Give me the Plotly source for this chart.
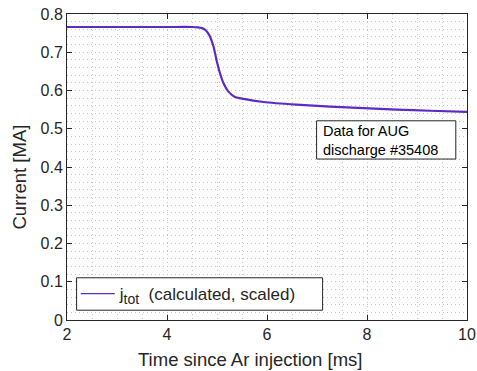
import plotly.graph_objects as go

# ---- data ----
time_ms = [2.0, 3.0, 4.0, 4.5, 4.62, 4.70, 4.76, 4.81, 4.86, 4.93, 4.99, 5.06,
           5.13, 5.23, 5.36, 5.53, 5.93, 6.59, 7.26, 7.93, 8.59, 9.26, 10.0]
current_MA = [0.766, 0.766, 0.766, 0.766, 0.765, 0.763, 0.759, 0.752, 0.741, 0.715,
              0.680, 0.645, 0.619, 0.597, 0.583, 0.578, 0.570, 0.563, 0.558,
              0.554, 0.550, 0.547, 0.544]
series_name = ("j<sub><span style='font-size:14px'>tot</span></sub>"
               "\u00a0\u00a0(calculated, scaled)")
x_ticks = [2, 4, 6, 8, 10]
y_ticks = [0, 0.1, 0.2, 0.3, 0.4, 0.5, 0.6, 0.7, 0.8]
x_title = "Time since Ar injection [ms]"
y_title = "Current [MA]"
note_text = "Data for AUG<br>discharge #35408"

LINE = "#5b2bc4"
TXT = "#262626"
FONT = "Liberation Sans, Arial, Helvetica, sans-serif"
GRID = "#c4c4c4"
DASH = "1px,3px"

fig = go.Figure()
fig.add_trace(go.Scatter(x=time_ms, y=current_MA, mode="lines",
                         line=dict(color=LINE, width=2.2, shape="spline", smoothing=0.6),
                         showlegend=False, hoverinfo="skip"))
# legend entry (thin sample line like the reference)
fig.add_trace(go.Scatter(x=[None], y=[None], mode="lines",
                         line=dict(color=LINE, width=1.3), name=series_name,
                         showlegend=True))

axis_common = dict(showline=True, linecolor=TXT, linewidth=1, mirror="ticks",
                   ticks="inside", ticklen=5, tickcolor=TXT, tickwidth=1,
                   showgrid=True, gridcolor=GRID, griddash=DASH, gridwidth=1,
                   zeroline=False,
                   tickfont=dict(family=FONT, size=16, color=TXT))

fig.update_xaxes(range=[2, 10], tickvals=x_ticks,
                 minor=dict(dtick=0.5, tick0=2, showgrid=True, gridcolor=GRID,
                            griddash=DASH, gridwidth=1, ticks=""),
                 **axis_common)
fig.update_yaxes(range=[0, 0.8], tickvals=y_ticks,
                 ticktext=[("0" if v == 0 else f"{v:.1f}") for v in y_ticks],
                 minor=dict(dtick=0.02, tick0=0, showgrid=True, gridcolor=GRID,
                            griddash=DASH, gridwidth=1, ticks=""),
                 **axis_common)

# axis titles (placed as in the reference)
fig.add_annotation(xref="paper", yref="paper", x=0.4575, y=-0.1275,
                   xanchor="center", yanchor="middle", text=x_title, showarrow=False,
                   font=dict(family=FONT, size=18.5, color=TXT))
fig.add_annotation(xref="paper", yref="paper", x=-0.119, y=0.467,
                   xanchor="center", yanchor="middle", text=y_title, showarrow=False,
                   textangle=-90, font=dict(family=FONT, size=18.5, color=TXT))

# legend box
fig.add_shape(type="rect", xref="paper", yref="paper",
              x0=0.024, x1=0.639, y0=0.032, y1=0.138,
              line=dict(color=TXT, width=1), fillcolor="white", layer="above")
# note box
fig.add_shape(type="rect", xref="paper", yref="paper",
              x0=0.624, x1=0.972, y0=0.526, y1=0.651,
              line=dict(color=TXT, width=1), fillcolor="white", layer="above")
fig.add_annotation(xref="paper", yref="paper", x=0.634, y=0.585,
                   xanchor="left", yanchor="middle", align="left",
                   text=note_text, showarrow=False,
                   font=dict(family=FONT, size=14.5, color="black"))

fig.update_layout(
    width=477, height=371,
    margin=dict(l=67, r=10, t=14, b=51, autoexpand=False),
    paper_bgcolor="white", plot_bgcolor="white",
    font=dict(family=FONT, color=TXT),
    legend=dict(x=0.022, y=0.085, xanchor="left", yanchor="middle",
                bgcolor="rgba(0,0,0,0)", borderwidth=0, itemwidth=34,
                font=dict(family=FONT, size=17, color=TXT)),
)

fig.write_html("out.html")
